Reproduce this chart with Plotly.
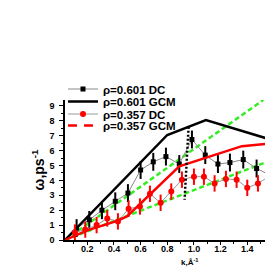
import plotly.graph_objects as go

# ---- data ----
k_dc_601 = [0.12, 0.215, 0.31, 0.41, 0.505, 0.60, 0.695, 0.79, 0.89, 0.985, 1.085, 1.18, 1.27, 1.37, 1.47, 1.57]
w_dc_601 = [0.8, 1.35, 2.0, 2.6, 3.15, 4.7, 5.25, 5.6, 5.1, 6.75, 5.7, 5.1, 5.2, 5.4, 4.8, 4.35]
e_dc_601 = [0.6] * len(k_dc_601)

k_dc_357 = [0.107, 0.185, 0.27, 0.35, 0.43, 0.51, 0.595, 0.67, 0.75, 0.83, 0.91, 1.0, 1.075, 1.155, 1.24, 1.32, 1.40, 1.48, 1.57]
w_dc_357 = [0.5, 0.7, 1.0, 1.45, 1.25, 2.1, 2.25, 3.1, 2.5, 3.25, 4.05, 4.25, 4.25, 3.8, 4.1, 4.05, 3.5, 3.8, 4.3]
e_dc_357 = [0.55] * len(k_dc_357)

k_gcm_601 = [0.033, 0.80, 1.09, 1.59]
w_gcm_601 = [0.0, 7.05, 8.05, 6.7]

k_gcm_357 = [0.033, 0.2, 0.43, 0.5, 0.89, 1.36, 1.59]
w_gcm_357 = [0.0, 0.65, 1.3, 1.6, 4.95, 6.3, 6.5]

k_green_hi = [0.033, 1.52]
w_green_hi = [0.0, 9.4]
k_green_lo = [0.033, 1.59]
w_green_lo = [0.0, 5.4]

k_dotted = [0.96, 0.93]
w_dotted = [7.6, 2.7]

x_ticks = [0.2, 0.4, 0.6, 0.8, 1.0, 1.2, 1.4]
y_ticks = list(range(10))

FONT = "Liberation Sans, Arial, sans-serif"
GREEN = "#33ee22"

fig = go.Figure()

fig.add_trace(go.Scatter(x=k_green_hi, y=w_green_hi, mode="lines", showlegend=False,
                         line=dict(color=GREEN, width=2.5, dash="5px,3px")))
fig.add_trace(go.Scatter(x=k_green_lo, y=w_green_lo, mode="lines", showlegend=False,
                         line=dict(color=GREEN, width=2.5, dash="5px,3px")))

fig.add_trace(go.Scatter(x=k_dc_601, y=w_dc_601, mode="lines+markers", name="ρ=0.601 DC",
                         line=dict(color="#888888", width=1),
                         marker=dict(symbol="square", size=5, color="black"),
                         error_y=dict(type="data", array=e_dc_601, thickness=2, width=0, color="black"),
                         legend="legend"))
fig.add_trace(go.Scatter(x=k_gcm_601, y=w_gcm_601, mode="lines", name="ρ=0.601 GCM",
                         line=dict(color="black", width=2.5), legend="legend2"))
fig.add_trace(go.Scatter(x=k_dc_357, y=w_dc_357, mode="lines+markers", name="ρ=0.357 DC",
                         line=dict(color="#999999", width=1),
                         marker=dict(symbol="circle", size=6, color="red"),
                         error_y=dict(type="data", array=e_dc_357, thickness=2, width=0, color="red"),
                         legend="legend3"))
fig.add_trace(go.Scatter(x=k_gcm_357, y=w_gcm_357, mode="lines", showlegend=False,
                         line=dict(color="red", width=2.5)))
fig.add_trace(go.Scatter(x=[None], y=[None], mode="lines", name="ρ=0.357 GCM",
                         line=dict(color="red", width=2.5, dash="9px,7px"), legend="legend4"))

fig.add_trace(go.Scatter(x=k_dotted, y=w_dotted, mode="lines", showlegend=False,
                         line=dict(color="black", width=2.5, dash="2px,2px")))

# page body has an 8px margin; figure is sized so it fills the 273px window
W, H = 265, 265
L, R, T, B = 57, 0, 92, 33
ph = H - T - B
pw = W - L - R

def ly(py):
    return (H - B - py) / ph

def lx(px):
    return (px - L) / pw

legend_common = dict(font=dict(family=FONT, size=11.5, color="black", weight="bold"),
                     bgcolor="rgba(0,0,0,0)", borderwidth=0, itemwidth=30,
                     xanchor="left", yanchor="middle", x=lx(55))
layout_legends = {}
for name, py in [("legend", 81), ("legend2", 93.5), ("legend3", 106), ("legend4", 117.5)]:
    layout_legends[name] = dict(legend_common, y=ly(py))

fig.update_layout(
    width=W, height=H,
    margin=dict(l=L, r=R, t=T, b=B, autoexpand=False),
    paper_bgcolor="white", plot_bgcolor="white",
    font=dict(family=FONT, color="black"),
    **layout_legends,
    xaxis=dict(range=[0.033, 1.593], tickvals=x_ticks, ticktext=[f"{v:.1f}" for v in x_ticks],
               automargin=False,
               showgrid=False, zeroline=False, showline=True, linecolor="black", linewidth=1.5,
               ticks="outside", ticklen=3, tickwidth=1, tickcolor="black",
               minor=dict(dtick=0.1, tick0=0, ticks="outside", ticklen=2, tickcolor="black"),
               ticklabelstandoff=-4,
               tickfont=dict(family=FONT, size=9, weight="bold")),
    yaxis=dict(range=[0, 9.4], tickvals=y_ticks, automargin=False,
               showgrid=False, zeroline=False, showline=True, linecolor="black", linewidth=1.5,
               ticks="outside", ticklen=4, tickwidth=1, tickcolor="black",
               minor=dict(dtick=0.5, ticks="outside", ticklen=2, tickcolor="black"),
               ticklabelstandoff=3,
               tickfont=dict(family=FONT, size=9, weight="bold"),
               title=dict(text="ω,ps<sup>-1</sup>", font=dict(family=FONT, size=14, weight="bold"), standoff=2)),
    annotations=[
        dict(text="1.6", xref="paper", yref="paper", x=lx(266.6), y=ly(241),
             xanchor="center", yanchor="middle", showarrow=False,
             font=dict(family=FONT, size=9, weight="bold", color="black")),
        dict(text="k,Å<sup>-1</sup>", xref="paper", yref="paper", x=lx(181), y=ly(254),
             xanchor="center", yanchor="middle", showarrow=False,
             font=dict(family=FONT, size=8, weight="bold", color="black")),
    ],
)

fig.write_html("out.html")
